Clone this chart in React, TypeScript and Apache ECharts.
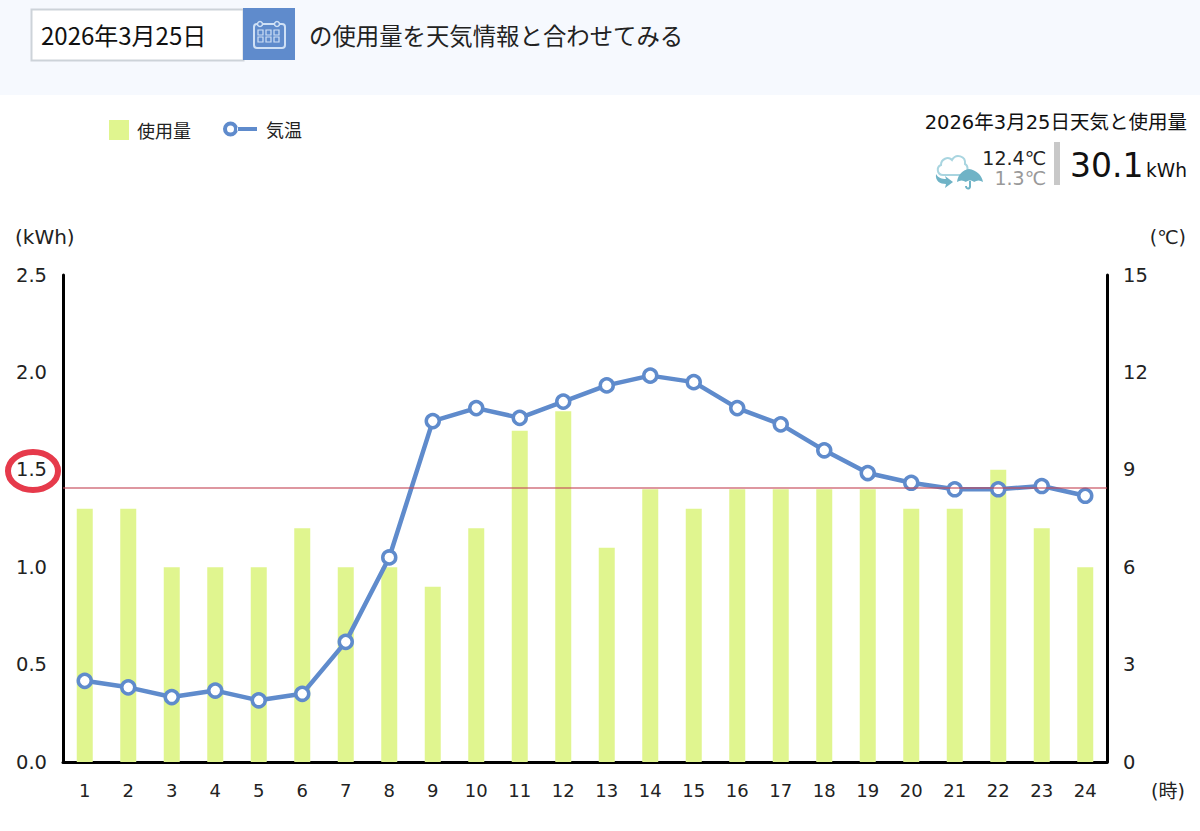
import React, { useEffect, useRef } from "react";
import * as echarts from "echarts";

const hours = ["1","2","3","4","5","6","7","8","9","10","11","12","13","14","15","16","17","18","19","20","21","22","23","24"];
const usage = [1.3,1.3,1.0,1.0,1.0,1.2,1.0,1.0,0.9,1.2,1.7,1.8,1.1,1.4,1.3,1.4,1.4,1.4,1.4,1.3,1.3,1.5,1.2,1.0];
const temperature = [2.5,2.3,2.0,2.2,1.9,2.1,3.7,6.3,10.5,10.9,10.6,11.1,11.6,11.9,11.7,10.9,10.4,9.6,8.9,8.6,8.4,8.4,8.5,8.2];
const averageUsage = 1.41;

const DEJAVU = '"DejaVu Sans", "Noto Sans CJK JP", sans-serif';
const CJK = '"Noto Sans CJK JP", sans-serif';
const BLUE = "#5f8bcc";
const LEGEND_LINE =
  "path://M7.5 0a7.5 7.5 0 1 0 0 15a7.5 7.5 0 1 0 0-15zM7.5 4a3.5 3.5 0 1 1 0 7a3.5 3.5 0 1 1 0-7zM14 5.5h20v4h-20z";

echarts.graphic.registerShape("cloudIcon", echarts.graphic.extendPath(
  "M943 175C937 175 936 167 941 165C941 159 948 156 952 160C956 153 966 156 965 164C969 166 968 175 963 175Z", {}));
echarts.graphic.registerShape("umbrellaIcon", echarts.graphic.extendPath(
  "M957 182C958 174 963 170 969 169C976 170 982 175 983 182C980 180 977 180 974 182C972 180 968 180 966 182C963 180 960 180 957 182ZM969 181H971V187C970 191 965 190 965 186H967C967 188 969 188 969 186Z", {}));
echarts.graphic.registerShape("arrowIcon", echarts.graphic.extendPath(
  "M936 174C938 178 942 179 946 179L945 176L953 182L945 188L946 184C940 184 935 181 936 174Z", {}));

export default function App() {
  const ref = useRef<HTMLDivElement>(null);
  useEffect(() => {
    const chart = echarts.init(ref.current!, undefined, { renderer: "svg" });
    const calCells: any[] = [];
    for (const cy of [30, 37]) {
      for (const cx of [258, 266, 274]) {
        calCells.push({ type: "rect", shape: { x: cx, y: cy, width: 5, height: 5 }, style: { fill: "none", stroke: "#cfe0f5", lineWidth: 1.2 } });
      }
    }
    chart.setOption({
      animation: false,
      backgroundColor: "#fff",
      grid: { left: 63, right: 93, top: 275, bottom: 69, containLabel: false },
      legend: [
        {
          left: 109,
          top: 120,
          padding: 0,
          itemWidth: 20,
          itemHeight: 20,
          selectedMode: false,
          textStyle: { fontFamily: CJK, fontSize: 18, color: "#222", padding: [0, 0, 0, 3] },
          data: [{ name: "使用量", icon: "rect" }],
        },
        {
          left: 223,
          top: 120,
          padding: 0,
          itemWidth: 34,
          itemHeight: 20,
          selectedMode: false,
          textStyle: { fontFamily: CJK, fontSize: 18, color: "#222", padding: [0, 0, 0, 4] },
          data: [{ name: "気温", icon: LEGEND_LINE, itemStyle: { color: BLUE, borderWidth: 0 } }],
        },
      ],
      xAxis: {
        type: "category",
        data: hours,
        axisLine: { lineStyle: { color: "#000", width: 3 } },
        axisTick: { show: false },
        axisLabel: { fontFamily: DEJAVU, fontSize: 18, color: "#222", margin: 19 },
      },
      yAxis: [
        {
          type: "value",
          min: 0,
          max: 2.5,
          interval: 0.5,
          name: "(kWh)",
          nameGap: 28,
          nameTextStyle: { fontFamily: DEJAVU, fontSize: 20, color: "#222", align: "left", padding: [0, 0, 0, -48] },
          axisLine: { show: true, lineStyle: { color: "#000", width: 3 } },
          axisTick: { show: false },
          splitLine: { show: false },
          axisLabel: { fontFamily: DEJAVU, fontSize: 19.5, color: "#222", margin: 16, padding: [4, 0, 0, 0], formatter: (v: number) => v.toFixed(1) },
        },
        {
          type: "value",
          min: 0,
          max: 15,
          interval: 3,
          position: "right",
          name: "(℃)",
          nameGap: 29,
          nameTextStyle: { fontFamily: DEJAVU, fontSize: 19, color: "#222", align: "right", padding: [0, -79, 0, 0] },
          axisLine: { show: true, lineStyle: { color: "#000", width: 3 } },
          axisTick: { show: false },
          splitLine: { show: false },
          axisLabel: { fontFamily: DEJAVU, fontSize: 19.5, color: "#222", margin: 16, padding: [4, 0, 0, 0] },
        },
      ],
      series: [
        {
          name: "使用量",
          type: "bar",
          data: usage,
          barWidth: 16,
          itemStyle: { color: "#e0f58f" },
          markLine: {
            silent: true,
            symbol: "none",
            label: { show: false },
            lineStyle: { color: "rgba(196,70,85,0.75)", width: 1.5, type: "solid" },
            data: [{ yAxis: averageUsage }],
            z: 10,
          },
        },
        {
          name: "気温",
          type: "line",
          yAxisIndex: 1,
          data: temperature,
          symbol: "circle",
          symbolSize: 13,
          showAllSymbol: true,
          lineStyle: { color: BLUE, width: 4.5 },
          itemStyle: { color: "#fff", borderColor: BLUE, borderWidth: 3.5 },
          z: 5,
        },
      ],
      graphic: [
        { type: "rect", z: -1, shape: { x: 0, y: 0, width: 1200, height: 95 }, style: { fill: "#f6f9fe" } },
        { type: "rect", shape: { x: 31.5, y: 9.5, width: 212, height: 51 }, style: { fill: "#fff", stroke: "#cdd3d9", lineWidth: 2 } },
        { type: "rect", shape: { x: 243, y: 8, width: 52, height: 52 }, style: { fill: BLUE } },
        { type: "rect", shape: { x: 254, y: 24, width: 31, height: 24, r: 3 }, style: { fill: "none", stroke: "#cfe0f5", lineWidth: 2 } },
        { type: "circle", shape: { cx: 260, cy: 24, r: 2.5 }, style: { fill: BLUE, stroke: "#cfe0f5", lineWidth: 1.5 } },
        { type: "circle", shape: { cx: 277, cy: 24, r: 2.5 }, style: { fill: BLUE, stroke: "#cfe0f5", lineWidth: 1.5 } },
        ...calCells,
        { type: "text", x: 41, y: 34, style: { text: "2026年3月25日", font: `24px ${CJK}`, fill: "#111", verticalAlign: "middle" } },
        { type: "text", x: 309, y: 35, style: { text: "の使用量を天気情報と合わせてみる", font: `23.4px ${CJK}`, fill: "#222", verticalAlign: "middle" } },
        { type: "text", x: 1187, y: 122, style: { text: "2026年3月25日天気と使用量", font: `19.5px ${DEJAVU}`, fill: "#111", align: "right", verticalAlign: "middle" } },
        { type: "cloudIcon", x: 0, y: 0, style: { fill: "#fff", stroke: "#a9d5e0", lineWidth: 2 } },
        { type: "umbrellaIcon", x: 0, y: 0, style: { fill: "#6fb3c6" } },
        { type: "arrowIcon", x: 0, y: 0, style: { fill: "#6fb3c6" } },
        { type: "text", x: 1046, y: 158, style: { text: "12.4℃", font: `19px ${DEJAVU}`, fill: "#222", align: "right", verticalAlign: "middle" } },
        { type: "text", x: 1046, y: 178, style: { text: "1.3℃", font: `19px ${DEJAVU}`, fill: "#999", align: "right", verticalAlign: "middle" } },
        { type: "rect", shape: { x: 1054, y: 142, width: 6, height: 43 }, style: { fill: "#c8c8c8" } },
        { type: "text", x: 1070, y: 165, style: { text: "30.1", font: `33px ${DEJAVU}`, fill: "#111", verticalAlign: "middle" } },
        { type: "text", x: 1187, y: 170, style: { text: "kWh", font: `18.6px ${DEJAVU}`, fill: "#111", align: "right", verticalAlign: "middle" } },
        { type: "text", x: 1168, y: 791, style: { text: "(時)", font: `19px ${DEJAVU}`, fill: "#222", align: "center", verticalAlign: "middle" } },
        { type: "ellipse", z: 20, shape: { cx: 33, cy: 471, rx: 25, ry: 19 }, style: { fill: "none", stroke: "#e63a4b", lineWidth: 6 } },
      ],
    });
    return () => chart.dispose();
  }, []);
  return <div ref={ref} style={{ position: "absolute", left: 0, top: 0, width: 1200, height: 831 }} />;
}
